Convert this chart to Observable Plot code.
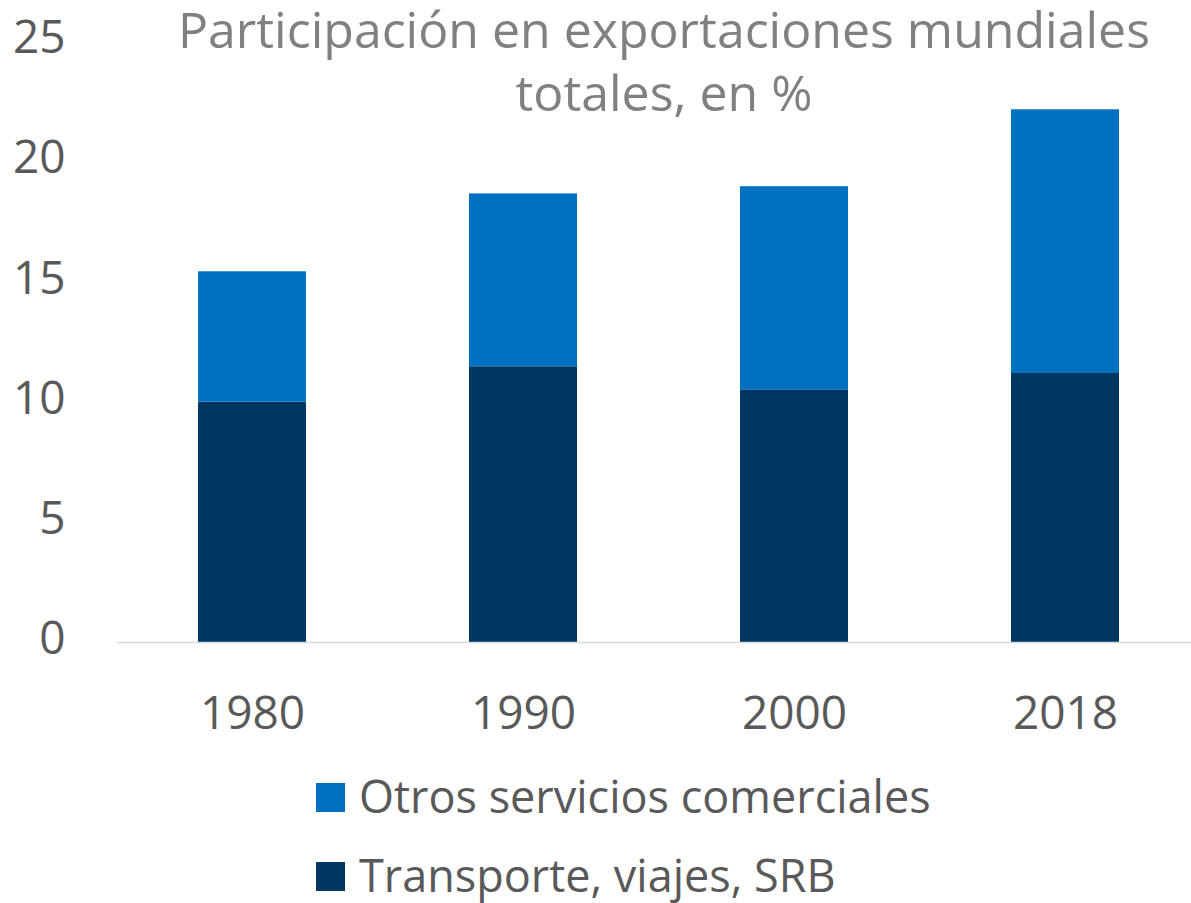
<!DOCTYPE html>
<html>
<head>
<meta charset="utf-8">
<script src="https://cdn.jsdelivr.net/npm/d3@7"></script>
<script src="https://cdn.jsdelivr.net/npm/@observablehq/plot@0.6"></script>
<style>
  html, body { margin: 0; padding: 0; background: #fff; }
  #chart { width: 1191px; height: 903px; position: relative; overflow: hidden; }
  #chart svg { display: block; }
</style>
</head>
<body>
<div id="chart"></div>
<script>
const years = ["1980", "1990", "2000", "2018"];
const transporte = [10.0, 11.47, 10.51, 11.19];
const otros = [5.42, 7.19, 8.45, 10.97];
const seriesNames = ["Otros servicios comerciales", "Transporte, viajes, SRB"];
const seriesColors = ["#0070C0", "#00365F"];
const yTicks = [0, 5, 10, 15, 20, 25];
const titleText = "Participación en exportaciones mundiales\ntotales, en %";

const rows = [];
years.forEach((yr, i) => rows.push({year: yr, series: seriesNames[1], value: transporte[i]}));
years.forEach((yr, i) => rows.push({year: yr, series: seriesNames[0], value: otros[i]}));

const FONT = "'Open Sans', 'Noto Sans', sans-serif";

const plot = Plot.plot({
  width: 1191,
  height: 750,
  marginLeft: 117,
  marginRight: 0,
  marginTop: 41,
  marginBottom: 108,
  style: {fontFamily: FONT, fontSize: "46px", color: "#595959", background: "#fff", overflow: "visible"},
  x: {type: "band", domain: years, range: [117, 1201], paddingInner: 0.6, paddingOuter: 0.3, label: null},
  y: {domain: [0, 25], label: null},
  color: {domain: seriesNames, range: seriesColors},
  marks: [
    Plot.axisY({ticks: yTicks, tickSize: 0, tickPadding: 52, fontSize: 46, dy: -3, label: null, fill: "#595959"}),
    Plot.axisX({tickSize: 0, tickPadding: 54, fontSize: 46, label: null, fill: "#595959"}),
    Plot.barY(rows, {x: "year", y: "value", fill: "series"}),
    Plot.ruleY([0], {stroke: "#d9d9d9", strokeWidth: 1.5}),
    Plot.text([titleText], {
      frameAnchor: "top", dx: 9.5, dy: -38, lineAnchor: "top",
      fontSize: 50, lineHeight: 63 / 50, fill: "#808080", textAnchor: "middle"
    })
  ]
});
document.getElementById("chart").appendChild(plot);

// Legend below the plot
const leg = d3.create("svg").attr("width", 1191).attr("height", 153)
  .style("font-family", FONT).style("display", "block");
const legendItems = [
  {name: seriesNames[0], color: seriesColors[0], y: 0},
  {name: seriesNames[1], color: seriesColors[1], y: 79}
];
legendItems.forEach(d => {
  leg.append("rect").attr("x", 316).attr("y", 33 + d.y).attr("width", 29).attr("height", 29).attr("fill", d.color);
  leg.append("text").attr("x", 359).attr("y", 63 + d.y).attr("font-size", 45).attr("fill", "#595959").text(d.name);
});
document.getElementById("chart").appendChild(leg.node());
</script>
</body>
</html>
